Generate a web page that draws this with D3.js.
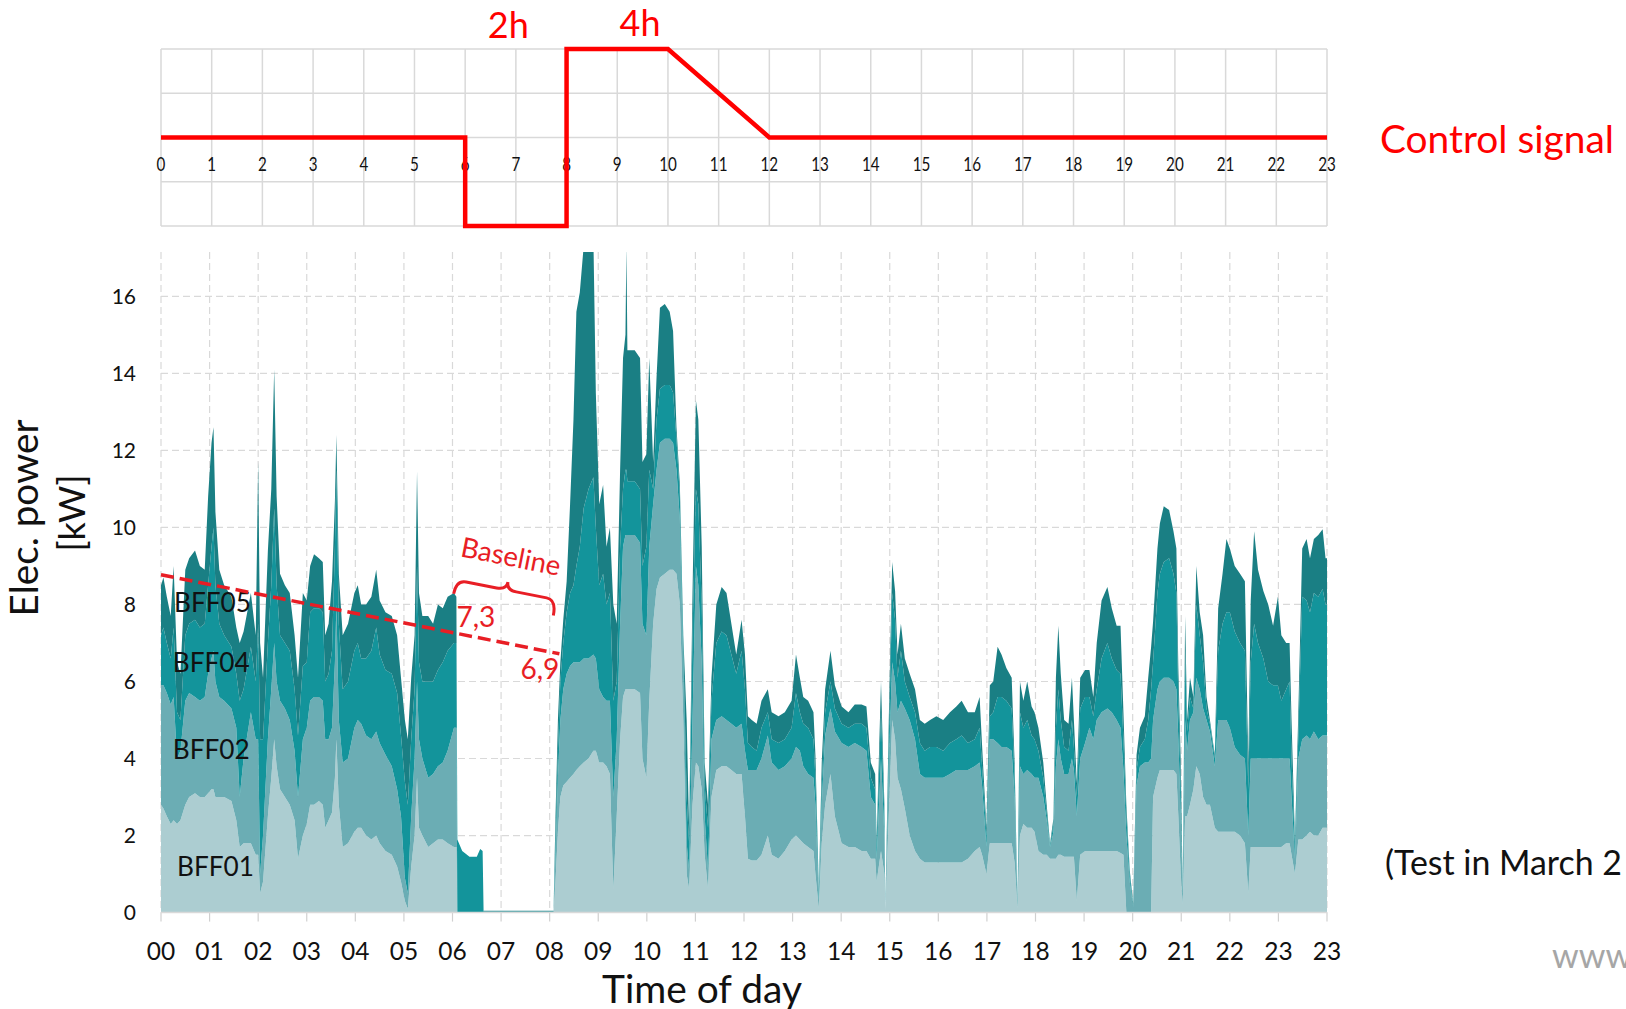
<!DOCTYPE html>
<html>
<head>
<meta charset="utf-8">
<script src="https://cdn.jsdelivr.net/npm/d3@7"></script>
<style>
  body { margin: 0; background: #fff; overflow: hidden; }
  text { font-family: Lato, "Open Sans", sans-serif; }
</style>
</head>
<body>
<script>
// ---- control signal (top panel)
var signalHours  = [0, 6, 6, 8, 8, 10, 12, 23];
var signalLevels = [0, 0, -2, -2, 2, 2, 0, 0];
var topTickLabels = ["0","1","2","3","4","5","6","7","8","9","10","11",
                     "12","13","14","15","16","17","18","19","20","21","22","23"];

// ---- measured power, stacked (bottom panel)
var bottomTickLabels = ["00","01","02","03","04","05","06","07","08","09","10","11",
                        "12","13","14","15","16","17","18","19","20","21","22","23","23"];
var kwTicks = [0, 2, 4, 6, 8, 10, 12, 14, 16];

var hours = [
  0, 0.05, 0.12, 0.2, 0.26, 0.33, 0.4, 0.5, 0.58, 0.7,
  0.8, 0.9, 0.97, 1.04, 1.08, 1.12, 1.2, 1.3, 1.45, 1.55,
  1.62, 1.7, 1.85, 1.95, 2.0, 2.04, 2.1, 2.2, 2.27, 2.33,
  2.38, 2.45, 2.55, 2.65, 2.75, 2.82, 2.92, 3.0, 3.07, 3.15,
  3.25, 3.33, 3.38, 3.45, 3.52, 3.58, 3.61, 3.66, 3.74, 3.85,
  3.98, 4.05, 4.12, 4.22, 4.33, 4.43, 4.5, 4.62, 4.75, 4.86,
  4.94, 5.02, 5.08, 5.15, 5.22, 5.27, 5.31, 5.38, 5.5, 5.6,
  5.7, 5.8, 5.9, 6.03, 6.08, 6.1, 6.2, 6.35, 6.5, 6.57,
  6.62, 6.64, 8.08, 8.12, 8.17, 8.22, 8.28, 8.35, 8.42, 8.49,
  8.55, 8.62, 8.7, 8.8, 8.9, 8.95, 9.02, 9.1, 9.17, 9.24,
  9.31, 9.38, 9.45, 9.51, 9.56, 9.58, 9.6, 9.75, 9.86, 9.91,
  9.99, 10.05, 10.13, 10.2, 10.27, 10.37, 10.47, 10.54, 10.61, 10.68,
  10.75, 10.82, 10.87, 10.94, 11.01, 11.06, 11.13, 11.19, 11.26, 11.33,
  11.43, 11.54, 11.64, 11.74, 11.84, 11.95, 12.02, 12.08, 12.16, 12.26,
  12.36, 12.49, 12.57, 12.71, 12.84, 12.98, 13.07, 13.15, 13.22, 13.32,
  13.43, 13.47, 13.54, 13.6, 13.67, 13.78, 13.87, 14.01, 14.15, 14.28,
  14.42, 14.52, 14.61, 14.7, 14.73, 14.82, 14.89, 14.91, 14.98, 15.05,
  15.11, 15.16, 15.23, 15.31, 15.41, 15.52, 15.62, 15.72, 15.83, 15.96,
  16.1, 16.24, 16.37, 16.48, 16.61, 16.75, 16.85, 16.9, 16.99, 17.06,
  17.13, 17.22, 17.3, 17.4, 17.51, 17.57, 17.63, 17.68, 17.75, 17.83,
  17.92, 17.98, 18.06, 18.16, 18.23, 18.3, 18.37, 18.42, 18.47, 18.52,
  18.59, 18.68, 18.75, 18.79, 18.85, 18.92, 19.02, 19.11, 19.19, 19.26,
  19.36, 19.48, 19.57, 19.67, 19.75, 19.81, 19.87, 19.94, 20.01, 20.08,
  20.15, 20.25, 20.32, 20.38, 20.42, 20.51, 20.56, 20.64, 20.75, 20.84,
  20.9, 20.94, 20.99, 21.03, 21.08, 21.12, 21.18, 21.25, 21.31, 21.38,
  21.45, 21.52, 21.59, 21.69, 21.76, 21.85, 21.93, 22.0, 22.1, 22.21,
  22.31, 22.38, 22.43, 22.5, 22.58, 22.69, 22.79, 22.89, 22.99, 23.06,
  23.16, 23.23, 23.27, 23.34, 23.41, 23.49, 23.58, 23.65, 23.73, 23.82,
  23.91, 23.97, 24
];

var bff01 = [
  2.8, 2.7, 2.5, 2.3, 2.4, 2.3, 2.4, 2.8, 3.0, 3.1,
  3.0, 3.0, 3.1, 3.2, 3.2, 3.0, 3.0, 3.0, 2.9, 2.4,
  1.7, 1.8, 1.8, 1.5, 1.5, 0.5, 0.8, 2.5, 3.5, 4.5,
  3.8, 3.2, 3.0, 2.8, 2.4, 1.4, 2.0, 2.3, 2.8, 2.8,
  2.9, 2.8, 2.2, 2.4, 2.6, 3.5, 4.5, 2.8, 1.7, 1.8,
  2.1, 2.2, 2.2, 2.0, 1.9, 2.0, 1.8, 1.6, 1.5, 1.2,
  0.8, 0.3, 0.1, 1.2, 2.0, 3.5, 2.2, 2.0, 1.7, 1.8,
  1.9, 1.9, 1.8, 1.7, 1.7, 0, 0, 0, 0, 0,
  0, 0, 0, 0.8, 2.1, 3.0, 3.3, 3.4, 3.5, 3.6,
  3.7, 3.8, 3.9, 4.0, 4.2, 4.2, 3.9, 3.9, 3.8, 3.6,
  0.6, 2.5, 4.5, 5.6, 5.8, 5.8, 5.8, 5.8, 5.7, 4.0,
  3.5, 5.5, 7.5, 8.4, 8.7, 8.8, 8.9, 8.9, 8.8, 8.0,
  5.0, 1.0, 0.6, 2.8, 3.9, 3.8, 3.2, 1.5, 0.6, 3.0,
  3.7, 3.8, 3.8, 3.7, 3.6, 3.6, 2.5, 1.4, 1.35, 1.35,
  1.5, 2.0, 1.5, 1.4, 1.6, 1.9, 2.0, 1.9, 1.8, 1.7,
  1.6, 1.0, 0.1, 1.8, 2.8, 3.6, 2.5, 1.8, 1.7, 1.7,
  1.6, 1.6, 1.4, 1.4, 0.8, 1.6, 1.0, 0.05, 2.5, 5.0,
  4.5, 3.5, 3.2, 2.7, 2.0, 1.6, 1.4, 1.3, 1.3, 1.3,
  1.3, 1.3, 1.3, 1.3, 1.4, 1.6, 1.7, 1.5, 1.0, 1.8,
  1.8, 1.8, 1.8, 1.8, 1.8, 1.3, 0.1, 2.0, 2.3, 2.2,
  2.2, 2.1, 1.6, 1.5, 1.5, 1.4, 1.4, 1.4, 1.5, 1.5,
  1.45, 1.45, 1.45, 1.45, 0.3, 1.5, 1.6, 1.6, 1.6, 1.6,
  1.6, 1.6, 1.6, 1.6, 1.55, 1.5, 0, 0, 0, 0,
  0, 0, 0, 0, 3.0, 3.5, 3.7, 3.7, 3.7, 3.7,
  3.6, 2.5, 1.0, 0.2, 2.5, 2.5, 2.8, 3.2, 3.8, 3.6,
  3.0, 2.8, 2.8, 2.2, 2.1, 2.1, 2.1, 2.1, 2.1, 2.0,
  1.8, 0.5, 1.7, 1.7, 1.7, 1.7, 1.7, 1.7, 1.7, 1.7,
  1.8, 1.8, 1.5, 1.0, 1.9, 1.9, 2.0, 2.1, 2.0, 2.0,
  2.2, 2.2, 2.2
];

var bff02 = [
  3.1, 3.2, 3.2, 3.1, 3.2, 1.7, 1.8, 2.7, 2.7, 2.5,
  2.5, 2.6, 3.1, 3.4, 3.6, 3.0, 2.6, 2.5, 2.4, 2.4,
  1.3, 2.2, 3.4, 3.0, 3.0, 0.5, 1.2, 2.0, 2.3, 2.5,
  2.2, 2.3, 2.3, 2.2, 1.8, 1.6, 2.5, 2.5, 2.7, 2.8,
  2.7, 2.7, 2.3, 2.1, 2.2, 3.0, 3.5, 2.2, 2.2, 2.2,
  2.7, 2.8, 2.7, 2.6, 2.6, 2.7, 2.6, 2.5, 2.3, 2.0,
  1.7, 0.6, 0.4, 1.3, 2.0, 2.5, 2.3, 2.0, 1.8, 1.8,
  1.9, 2.0, 2.4, 3.1, 3.1, 0, 0, 0, 0, 0,
  0, 0, 0, 0.7, 1.4, 2.0, 2.5, 2.8, 2.9, 2.9,
  2.8, 2.7, 2.7, 2.6, 2.5, 2.4, 1.9, 1.7, 1.7, 1.9,
  2.4, 2.0, 3.0, 3.9, 4.0, 4.0, 4.0, 4.0, 3.9, 3.5,
  3.7, 4.0, 3.1, 3.1, 3.5, 3.5, 3.4, 3.3, 2.7, 2.2,
  1.5, 0.8, 0.5, 2.2, 5.1, 4.7, 3.3, 1.0, 0.5, 1.5,
  1.3, 1.3, 1.2, 1.2, 1.2, 1.3, 1.7, 2.3, 2.35, 2.35,
  2.5, 2.6, 2.4, 2.3, 2.2, 2.1, 2.3, 2.3, 2.0, 1.9,
  1.9, 1.8, 0.2, 1.0, 1.8, 1.7, 2.2, 2.6, 2.6, 2.7,
  2.7, 2.6, 1.6, 1.4, 0.6, 2.4, 1.0, 0.05, 1.3, 1.5,
  1.5, 1.7, 2.3, 2.6, 3.0, 2.9, 2.2, 2.2, 2.2, 2.2,
  2.2, 2.3, 2.4, 2.4, 2.3, 2.2, 2.2, 1.8, 0.7, 2.7,
  2.7, 2.6, 2.5, 2.5, 2.4, 1.7, 0.05, 1.8, 1.3, 1.5,
  1.4, 1.4, 1.9, 1.5, 0.9, 0.3, 0.7, 2.4, 3.0, 2.5,
  2.15, 2.15, 2.55, 2.25, 2.2, 2.5, 2.8, 3.2, 2.9, 3.4,
  3.6, 3.7, 3.6, 3.4, 3.25, 2.2, 2.0, 0.8, 0.15, 3.3,
  3.8, 3.9, 3.9, 4.0, 2.0, 2.3, 2.3, 2.4, 2.4, 2.3,
  2.2, 2.0, 1.5, 0.2, 2.5, 1.7, 2.2, 2.0, 2.3, 2.2,
  2.3, 2.2, 1.9, 1.6, 2.9, 2.9, 2.9, 2.7, 2.2, 2.1,
  2.2, 1.5, 2.3, 2.3, 2.3, 2.3, 2.3, 2.3, 2.3, 2.3,
  2.2, 2.2, 1.5, 0.4, 2.1, 2.6, 2.6, 2.4, 2.7, 2.5,
  2.4, 2.4, 2.4
];

var bff04 = [
  1.3, 1.5, 1.3, 1.2, 1.8, 1.2, 0.8, 1.7, 1.8, 2.0,
  1.9, 1.9, 2.3, 2.9, 3.2, 2.5, 1.9, 1.7, 1.6, 1.4,
  2.5, 1.8, 1.7, 1.5, 3.0, 3.5, 2.5, 2.5, 2.7, 3.5,
  2.5, 1.7, 1.7, 1.8, 1.6, 1.6, 1.9, 1.7, 2.3, 2.3,
  2.3, 2.3, 1.5, 1.7, 2.0, 3.0, 3.5, 2.5, 1.9, 2.0,
  2.0, 2.0, 1.7, 2.0, 2.3, 2.7, 2.3, 2.2, 2.4, 2.5,
  2.1, 2.5, 2.3, 2.0, 1.8, 3.0, 2.0, 2.0, 2.5, 2.4,
  2.5, 2.6, 2.6, 2.2, 2.2, 1.9, 1.6, 1.45, 1.45, 1.65,
  1.6, 0.03, 0.03, 0.5, 0.7, 1.0, 1.2, 1.6, 1.9, 2.0,
  2.5, 3.0, 3.9, 4.4, 4.6, 3.4, 2.7, 3.2, 2.5, 2.8,
  2.5, 1.5, 2.0, 1.5, 1.7, 1.7, 1.4, 1.4, 1.4, 1.5,
  2.3, 2.0, 0.4, 1.3, 1.4, 1.4, 1.4, 1.3, 0.8, 0.6,
  0.5, 1.2, 0.7, 2.2, 2.0, 2.1, 1.5, 0.8, 1.1, 1.0,
  2.0, 2.2, 2.2, 1.8, 1.4, 1.9, 1.6, 0.7, 0.6, 0.5,
  0.8, 0.6, 0.6, 0.7, 0.7, 0.8, 1.4, 1.0, 1.1, 1.2,
  1.0, 0.7, 0.2, 0.5, 0.6, 0.7, 0.6, 0.5, 0.5, 0.5,
  0.6, 0.6, 0.5, 0.4, 0.3, 1.2, 0.5, 0, 0.6, 1.8,
  1.6, 0.9, 1.3, 0.7, 0.6, 0.7, 0.8, 0.7, 0.8, 0.8,
  0.7, 0.8, 0.8, 0.9, 0.7, 0.7, 0.9, 0.5, 0.3, 0.6,
  0.7, 1.2, 1.3, 1.2, 1.1, 0.5, 0.05, 1.4, 1.2, 1.3,
  1.0, 1.0, 0.7, 0.5, 0.2, 0.05, 0.2, 1.0, 1.3, 1.0,
  0.7, 0.6, 1.0, 0.6, 0.5, 1.3, 1.2, 0.8, 0.6, 0.8,
  1.4, 1.7, 1.4, 1.3, 1.4, 0.8, 0.5, 0.2, 0.05, 0.4,
  0.5, 0.6, 1.1, 1.8, 1.5, 2.5, 2.8, 3.0, 3.1, 2.8,
  2.5, 1.0, 0.8, 0.1, 1.8, 0.5, 0.6, 0.1, 1.9, 1.4,
  1.2, 0.3, 0.2, 0.2, 1.8, 2.5, 2.8, 3.0, 3.0, 2.9,
  2.8, 1.2, 2.5, 3.5, 3.0, 2.6, 2.0, 1.9, 1.9, 1.5,
  1.8, 2.0, 1.0, 0.3, 0.6, 3.7, 3.5, 3.3, 3.6, 3.7,
  3.8, 3.4, 3.4
];

var bff05 = [
  1.3, 1.3, 1.2, 1.1, 1.6, 1.3, 1.2, 1.7, 1.7, 1.8,
  1.6, 1.4, 2.3, 2.7, 2.6, 1.9, 1.4, 1.3, 1.3, 1.2,
  1.5, 1.5, 1.4, 1.2, 4.2, 2.5, 1.6, 2.4, 2.5, 3.6,
  2.3, 1.6, 1.5, 1.5, 1.4, 1.5, 1.9, 1.6, 1.2, 1.4,
  1.3, 1.3, 1.2, 1.3, 1.8, 1.2, 0.9, 1.3, 1.4, 1.5,
  1.5, 1.5, 1.4, 1.4, 1.4, 1.5, 1.4, 1.5, 1.5, 1.5,
  1.5, 1.6, 1.7, 1.6, 1.4, 2.45, 1.8, 1.7, 1.7, 1.5,
  1.7, 1.4, 1.4, 1.3, 1.2, 0, 0, 0, 0, 0,
  0, 0.02, 0.02, 0.5, 0.8, 0.5, 0.6, 0.8, 2.3, 4.3,
  6.6, 6.6, 6.8, 6.5, 6.2, 3.5, 2.1, 2.3, 1.5, 1.7,
  2.5, 1.5, 2.0, 3.4, 3.5, 5.8, 3.4, 3.4, 3.4, 2.7,
  2.4, 2.9, 0.7, 1.1, 2.1, 2.1, 1.9, 1.6, 0.3, 0.3,
  0.2, 2.0, 0.4, 1.1, 2.3, 2.2, 1.5, 0.6, 0.6, 0.6,
  1.0, 1.15, 1.1, 0.8, 0.5, 0.8, 0.9, 0.7, 0.7, 0.7,
  0.7, 0.6, 0.7, 0.7, 0.7, 0.7, 1.0, 0.9, 0.7, 0.7,
  0.7, 0.6, 0.1, 0.6, 0.6, 0.8, 0.6, 0.45, 0.4, 0.5,
  0.5, 0.55, 0.4, 0.4, 0.2, 0.8, 0.3, 0, 0.6, 0.8,
  0.75, 0.6, 0.7, 0.6, 0.6, 0.6, 0.6, 0.7, 0.7, 0.8,
  0.8, 0.8, 0.85, 0.9, 0.8, 0.7, 0.8, 0.55, 0.2, 0.8,
  0.8, 1.3, 1.1, 0.85, 0.8, 0.4, 0.05, 0.8, 0.7, 1.0,
  0.75, 0.7, 0.6, 0.4, 0.2, 0.05, 0.15, 1.3, 1.65, 1.2,
  0.7, 0.7, 1.1, 0.7, 0.35, 0.8, 0.7, 0.7, 0.5, 1.2,
  1.5, 1.45, 1.3, 1.15, 1.25, 0.7, 0.3, 0.1, 0.05, 0.4,
  0.5, 0.6, 1.1, 1.1, 1.05, 1.15, 1.3, 1.45, 1.25, 1.1,
  1.15, 0.85, 0.6, 0.1, 0.9, 0.3, 0.5, 0.3, 1.0, 0.6,
  0.7, 0.3, 0.1, 0.1, 1.1, 1.3, 1.9, 1.65, 1.7, 1.8,
  1.8, 0.7, 1.6, 2.4, 1.9, 1.75, 2.0, 1.55, 2.3, 1.7,
  1.2, 1.0, 1.0, 0.2, 0.6, 1.25, 1.6, 1.4, 1.4, 1.6,
  1.55, 1.2, 1.2
];

var seriesKeys   = ["BFF01", "BFF02", "BFF04", "BFF05"];
var seriesColors = ["#accdd1", "#6badb4", "#13949b", "#1a7f84"];

// baseline annotation (kW at start and end of the dashed line)
var baselineHours = [0, 8.2];
var baselineKW    = [8.77, 6.72];

var width = 1626, height = 1009;
var red = "#ff0000", annoRed = "#e81e25";

var svg = d3.select("body").append("svg")
    .attr("width", width)
    .attr("height", height);

function fit(sel, w) {
  var fs = parseFloat(sel.attr("font-size"));
  var len = sel.node().getComputedTextLength();
  if (len > 0) sel.attr("font-size", (fs * w / len).toFixed(2));
  return sel;
}

// ================= top panel =================
var xs = d3.scaleLinear().domain([0, 23]).range([161, 1327]);
var ys = d3.scaleLinear().domain([-2, 2]).range([226, 49]);

var topPanel = svg.append("g");

topPanel.selectAll("line.v").data(d3.range(0, 24)).enter().append("line")
    .attr("x1", function(d) { return xs(d); })
    .attr("x2", function(d) { return xs(d); })
    .attr("y1", ys(2)).attr("y2", ys(-2))
    .attr("stroke", "#d9d9d9").attr("stroke-width", 1.5);

topPanel.selectAll("line.h").data([-2, -1, 0, 1, 2]).enter().append("line")
    .attr("x1", xs(0)).attr("x2", xs(23))
    .attr("y1", function(d) { return ys(d); })
    .attr("y2", function(d) { return ys(d); })
    .attr("stroke", "#d9d9d9").attr("stroke-width", 1.5);

topPanel.selectAll("text.tick").data(topTickLabels).enter().append("text")
    .attr("transform", function(d, i) { return "translate(" + xs(i) + ",171) scale(0.78,1)"; })
    .attr("text-anchor", "middle")
    .attr("font-size", 19.5)
    .attr("fill", "#111")
    .text(function(d) { return d; });

var signal = signalHours.map(function(h, i) { return [h, signalLevels[i]]; });
topPanel.append("path")
    .datum(signal)
    .attr("d", d3.line().x(function(d) { return xs(d[0]); }).y(function(d) { return ys(d[1]); }))
    .attr("fill", "none")
    .attr("stroke", red)
    .attr("stroke-width", 4.5)
    .attr("stroke-linejoin", "miter");

fit(topPanel.append("text").attr("x", xs(6.85)).attr("y", 38).attr("text-anchor", "middle")
    .attr("font-size", 36).attr("fill", red).text("2h"), 41);
fit(topPanel.append("text").attr("x", xs(9.45)).attr("y", 36).attr("text-anchor", "middle")
    .attr("font-size", 36).attr("fill", red).text("4h"), 41);
fit(topPanel.append("text").attr("x", 1380).attr("y", 153)
    .attr("font-size", 40).attr("fill", red).text("Control signal"), 234);

// ================= bottom panel =================
var xb = d3.scaleLinear().domain([0, 24]).range([161, 1327]);
var yb = d3.scaleLinear().domain([0, 17.15]).range([912.6, 252]);

var g = svg.append("g");

g.selectAll("line.gh").data(kwTicks.slice(1)).enter().append("line")
    .attr("x1", xb(0)).attr("x2", xb(24))
    .attr("y1", function(d) { return yb(d); })
    .attr("y2", function(d) { return yb(d); })
    .attr("stroke", "#d9d9d9").attr("stroke-width", 1.2)
    .attr("stroke-dasharray", "7,4");

g.selectAll("line.gv").data(d3.range(0, 25)).enter().append("line")
    .attr("x1", function(d) { return xb(d); })
    .attr("x2", function(d) { return xb(d); })
    .attr("y1", yb(17.15)).attr("y2", yb(0))
    .attr("stroke", "#d9d9d9").attr("stroke-width", 1.2)
    .attr("stroke-dasharray", "7,4");

g.selectAll("line.tk").data(d3.range(0, 25)).enter().append("line")
    .attr("x1", function(d) { return xb(d); })
    .attr("x2", function(d) { return xb(d); })
    .attr("y1", yb(0)).attr("y2", yb(0) + 9)
    .attr("stroke", "#d0d0d0").attr("stroke-width", 1.2);

svg.append("clipPath").attr("id", "plotclip")
  .append("rect")
    .attr("x", xb(0)).attr("y", yb(17.15))
    .attr("width", xb(24) - xb(0)).attr("height", yb(0) - yb(17.15));

var rows = hours.map(function(h, i) {
  return { h: h, BFF01: bff01[i], BFF02: bff02[i], BFF04: bff04[i], BFF05: bff05[i] };
});
var stacked = d3.stack().keys(seriesKeys)(rows);

var area = d3.area()
    .x(function(d) { return xb(d.data.h); })
    .y0(function(d) { return yb(d[0]); })
    .y1(function(d) { return yb(d[1]); });

g.append("g").attr("clip-path", "url(#plotclip)")
  .selectAll("path").data(stacked).enter().append("path")
    .attr("d", area)
    .attr("fill", function(d, i) { return seriesColors[i]; });

g.append("line")
    .attr("x1", xb(0)).attr("x2", xb(24))
    .attr("y1", yb(0)).attr("y2", yb(0))
    .attr("stroke", "#d9d9d9").attr("stroke-width", 1.5);

// tick labels
g.selectAll("text.yl").data(kwTicks).enter().append("text")
    .attr("x", 136)
    .attr("y", function(d) { return yb(d) + 7.5; })
    .attr("text-anchor", "end")
    .attr("font-size", 21)
    .attr("fill", "#111")
    .text(function(d) { return d; });

g.selectAll("text.xl").data(bottomTickLabels).enter().append("text")
    .attr("x", function(d, i) { return xb(i); })
    .attr("y", 960)
    .attr("text-anchor", "middle")
    .attr("font-size", 24.5)
    .attr("fill", "#111")
    .text(function(d) { return d; });

fit(g.append("text").attr("x", 702).attr("y", 1003).attr("text-anchor", "middle")
    .attr("font-size", 38).attr("fill", "#111").text("Time of day"), 200);

fit(g.append("text").attr("transform", "translate(38,518) rotate(-90)")
    .attr("text-anchor", "middle").attr("font-size", 38).attr("fill", "#111")
    .text("Elec. power"), 197);
fit(g.append("text").attr("transform", "translate(85,513) rotate(-90)")
    .attr("text-anchor", "middle").attr("font-size", 38).attr("fill", "#111")
    .text("[kW]"), 77);

// series labels
var lab05 = fit(g.append("text").attr("x", 174).attr("y", yb(7.8))
    .attr("font-size", 28).attr("fill", "#111").text("BFF05"), 77);
var labSize = lab05.attr("font-size");
g.append("text").attr("x", 172.7).attr("y", yb(6.25)).attr("font-size", labSize).attr("fill", "#111").text("BFF04");
g.append("text").attr("x", 172.7).attr("y", yb(4.0)).attr("font-size", labSize).attr("fill", "#111").text("BFF02");
g.append("text").attr("x", 177).attr("y", yb(0.95)).attr("font-size", labSize).attr("fill", "#111").text("BFF01");

// baseline annotation
var base = baselineHours.map(function(h, i) { return [h, baselineKW[i]]; });
g.append("path")
    .datum(base)
    .attr("d", d3.line().x(function(d) { return xb(d[0]); }).y(function(d) { return yb(d[1]); }))
    .attr("fill", "none")
    .attr("stroke", annoRed)
    .attr("stroke-width", 3.5)
    .attr("stroke-dasharray", "13,6");

fit(g.append("text").attr("x", xb(6.08)).attr("y", yb(7.3) - 4)
    .attr("font-size", 26).attr("fill", annoRed).text("7,3"), 39);
fit(g.append("text").attr("x", xb(8.2)).attr("y", yb(6.9) + 32).attr("text-anchor", "end")
    .attr("font-size", 26).attr("fill", annoRed).text("6,9"), 39);

var ang = 11.2;
fit(g.append("text")
    .attr("transform", "translate(509,566) rotate(" + ang + ")")
    .attr("text-anchor", "middle")
    .attr("font-size", 26).attr("fill", annoRed).text("Baseline"), 101);

var L = 102;
var bp = d3.path();
bp.moveTo(0, 14);
bp.quadraticCurveTo(0, 0, 10, 0);
bp.lineTo(L / 2 - 10, 0);
bp.quadraticCurveTo(L / 2, 0, L / 2, -8);
bp.quadraticCurveTo(L / 2, 0, L / 2 + 10, 0);
bp.lineTo(L - 10, 0);
bp.quadraticCurveTo(L, 0, L, 16);
g.append("path")
    .attr("d", bp.toString())
    .attr("transform", "translate(" + xb(6.08) + ",580) rotate(" + ang + ")")
    .attr("fill", "none")
    .attr("stroke", annoRed)
    .attr("stroke-width", 3);

// side notes
fit(svg.append("text").attr("x", 1385).attr("y", 875)
    .attr("font-size", 34).attr("fill", "#111").text("(Test in March 2"), 237);
svg.append("text").attr("x", 1552).attr("y", 968)
    .attr("font-size", 34).attr("fill", "#a6a6a6").text("www");
</script>
</body>
</html>
